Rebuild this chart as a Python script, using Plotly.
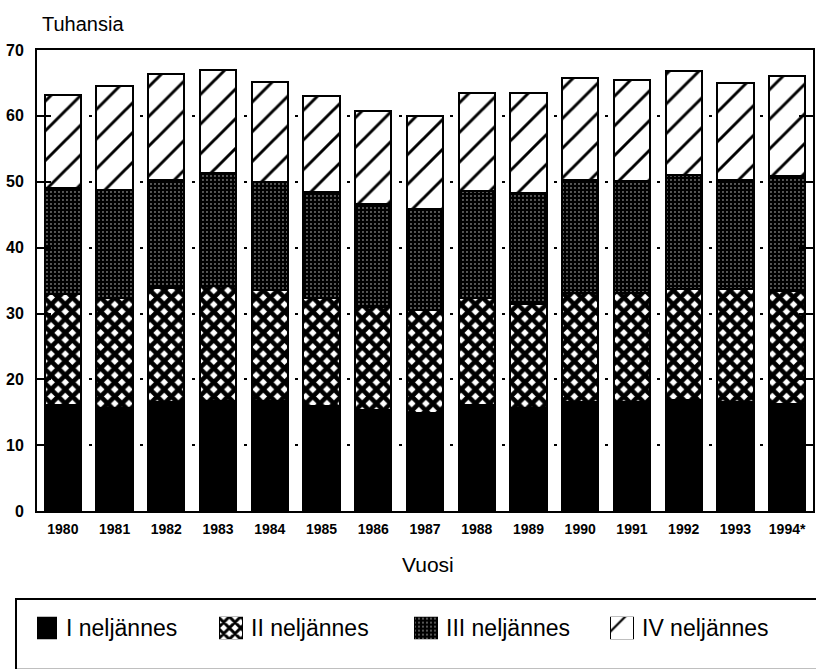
import plotly.graph_objects as go

years = ["1980", "1981", "1982", "1983", "1984", "1985", "1986", "1987",
         "1988", "1989", "1990", "1991", "1992", "1993", "1994*"]
q1 = [16.1, 15.7, 16.5, 16.7, 16.7, 16.0, 15.4, 14.9, 16.1, 15.6, 16.5, 16.5, 16.9, 16.6, 16.3]
q2 = [16.8, 16.7, 17.4, 17.5, 16.8, 16.4, 15.6, 15.6, 16.3, 15.8, 16.6, 16.6, 16.8, 17.1, 17.1]
q3 = [16.2, 16.3, 16.4, 17.1, 16.5, 16.0, 15.7, 15.4, 16.2, 16.9, 17.2, 17.0, 17.4, 16.6, 17.5]
q4 = [14.0, 15.9, 16.0, 15.7, 15.2, 14.6, 14.1, 14.1, 14.8, 15.1, 15.4, 15.4, 15.7, 14.7, 15.1]
series_names = ["I neljännes", "II neljännes", "III neljännes", "IV neljännes"]
y_ticks = [0, 10, 20, 30, 40, 50, 60, 70]

FONT = "Liberation Sans, Arial, sans-serif"
W, H = 816, 669
ML, MR, MT, MB = 37, 3, 50, 0
PW = W - ML - MR
PH = H - MT - MB
PLOT_BOTTOM = 518


def px_x(p):
    return (p - ML) / PW


def px_y(p):
    return (H - MB - p) / PH


patterns = [
    None,
    dict(shape="x", fgcolor="#000000", bgcolor="#ffffff", size=10, solidity=0.7,
         fgopacity=1, fillmode="overlay"),
    dict(shape=".", fgcolor="#ffffff", bgcolor="#000000", size=4, solidity=0.1,
         fgopacity=0.85, fillmode="overlay"),
    dict(shape="/", fgcolor="#000000", bgcolor="#ffffff", size=21, solidity=0.14,
         fgopacity=1, fillmode="overlay"),
]
colors = ["#000000", "#ffffff", "#000000", "#ffffff"]

fig = go.Figure()
for name, vals, pat, col in zip(series_names, [q1, q2, q3, q4], patterns, colors):
    marker = dict(color=col, line=dict(color="black", width=2))
    if pat is not None:
        marker["pattern"] = pat
    fig.add_trace(go.Bar(x=years, y=vals, name=name, marker=marker,
                         showlegend=False, hoverinfo="x+y+name"))

# custom legend swatches (on a helper axis placed in the legend strip)
swatch_centers = [45, 231, 426, 622]
text_lefts = [64, 249, 444, 640]
for i, (name, pat, col) in enumerate(zip(series_names, patterns, colors)):
    marker = dict(color=col, line=dict(color="black", width=1.5))
    if pat is not None:
        p = dict(pat)
        if p["shape"] == "/":
            p["size"] = 32
            p["solidity"] = 0.07
        if p["shape"] == "x":
            p["size"] = 8
            p["solidity"] = 0.6
        marker["pattern"] = p
    fig.add_trace(go.Bar(x=[swatch_centers[i]], y=[1], width=[23], marker=marker,
                         xaxis="x2", yaxis="y2", showlegend=False, hoverinfo="skip"))
    fig.add_annotation(text=name, xref="paper", yref="paper",
                       x=px_x(text_lefts[i]), y=px_y(637), xanchor="left", yanchor="middle",
                       showarrow=False, font=dict(family=FONT, size=23, color="black"))

fig.update_layout(
    width=W, height=H,
    margin=dict(l=ML, r=MR, t=MT, b=MB, pad=0),
    paper_bgcolor="white", plot_bgcolor="white",
    barmode="stack", bargap=0.3,
    font=dict(family=FONT, color="black"),
    xaxis=dict(
        type="category", showline=True, linecolor="black", linewidth=2, mirror=True,
        ticks="", showgrid=False, zeroline=False,
        tickfont=dict(family=FONT, size=14, color="black", weight="bold"),
        ticklabelstandoff=4,
    ),
    yaxis=dict(
        domain=[px_y(PLOT_BOTTOM), 1], range=[0, 70], tickvals=y_ticks,
        showline=True, linecolor="black", linewidth=2, mirror="ticks",
        ticks="inside", ticklen=14, tickwidth=2, tickcolor="black",
        showgrid=True, gridcolor="black", gridwidth=2, griddash="3px,48.67px",
        zeroline=False,
        tickfont=dict(family=FONT, size=16, color="black", weight="bold"),
        ticklabelstandoff=8,
    ),
    xaxis2=dict(domain=[0, 1], range=[ML, W - MR], visible=False, anchor="y2"),
    yaxis2=dict(domain=[px_y(648), px_y(625)], range=[0, 1], visible=False, anchor="x2"),
    showlegend=False,
)

fig.add_annotation(text="Tuhansia", xref="paper", yref="paper",
                   x=px_x(40), y=px_y(24), xanchor="left", yanchor="middle",
                   showarrow=False, font=dict(family=FONT, size=20, color="black"))
fig.add_annotation(text="Vuosi", xref="paper", yref="paper",
                   x=px_x(428), y=px_y(572), xanchor="center", yanchor="middle",
                   showarrow=False, font=dict(family=FONT, size=21, color="black"))

# legend frame
fig.add_shape(type="rect", xref="paper", yref="paper",
              x0=px_x(16), x1=px_x(W + 10), y0=px_y(H + 10), y1=px_y(607),
              line=dict(color="black", width=2), fillcolor="rgba(0,0,0,0)")

fig.write_html("out.html", config={"displayModeBar": False},
               post_script="document.body.style.margin='0';document.body.style.overflow='hidden';")
